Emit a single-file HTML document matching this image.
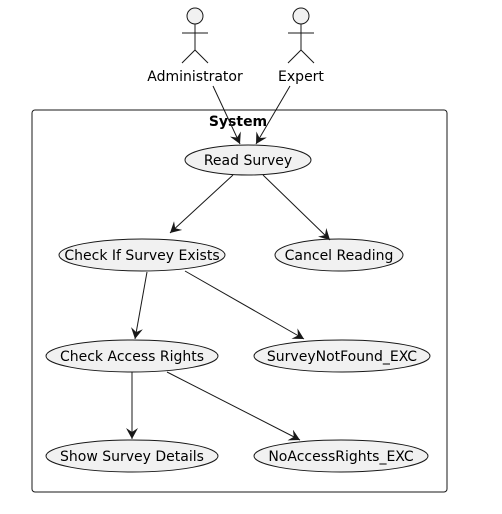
<!DOCTYPE html>
<html><head><style>body{margin:0;background:#fff}</style></head><body>
<svg width="502" height="509" xmlns="http://www.w3.org/2000/svg" font-family="DejaVu Sans, sans-serif">
<defs><marker id="a" viewBox="0 0 12 12" refX="11" refY="6" markerWidth="12" markerHeight="12" markerUnits="userSpaceOnUse" orient="auto"><path d="M0,0 L11,6 L0,12 L4,6 Z" fill="#181818"/></marker></defs>
<g stroke="#181818" stroke-width="1" fill="none">
<circle cx="195" cy="16" r="8" fill="#f1f1f1"/>
<path d="M195,24 V50 M182,33 H208 M182,63 L195,50 L208,63"/>
<circle cx="301" cy="16" r="8" fill="#f1f1f1"/>
<path d="M301,24 V50 M288,33 H314 M288,63 L301,50 L314,63"/>
<rect x="32" y="110" width="415" height="382" rx="3"/>
</g>
<g font-size="14" fill="#000" text-anchor="middle">
<text x="195" y="81">Administrator</text>
<text x="301" y="81">Expert</text>
<text x="238" y="126" font-weight="bold">System</text>
</g>
<g stroke="#181818" fill="#f1f1f1">
<ellipse cx="248" cy="160" rx="63" ry="15"/>
<ellipse cx="142" cy="255" rx="83" ry="16"/>
<ellipse cx="339" cy="255" rx="64" ry="16"/>
<ellipse cx="132" cy="356" rx="86" ry="16"/>
<ellipse cx="342" cy="356" rx="88" ry="16"/>
<ellipse cx="132" cy="456" rx="86" ry="16"/>
<ellipse cx="341" cy="456" rx="87" ry="16"/>
</g>
<g font-size="14" fill="#000" text-anchor="middle">
<text x="248" y="165">Read Survey</text>
<text x="142" y="260">Check If Survey Exists</text>
<text x="339" y="260">Cancel Reading</text>
<text x="132" y="361">Check Access Rights</text>
<text x="342" y="361">SurveyNotFound_EXC</text>
<text x="132" y="461">Show Survey Details</text>
<text x="341" y="461">NoAccessRights_EXC</text>
</g>
<g stroke="#181818" marker-end="url(#a)">
<line x1="213" y1="86" x2="240" y2="144"/>
<line x1="290" y1="86" x2="256" y2="144"/>
<line x1="233" y1="175" x2="170" y2="233"/>
<line x1="263" y1="175" x2="330" y2="240"/>
<line x1="147" y1="272" x2="135" y2="339"/>
<line x1="185" y1="271" x2="304" y2="339"/>
<line x1="132" y1="372" x2="132" y2="439"/>
<line x1="167" y1="372" x2="300" y2="440"/>
</g>
</svg>
</body></html>
